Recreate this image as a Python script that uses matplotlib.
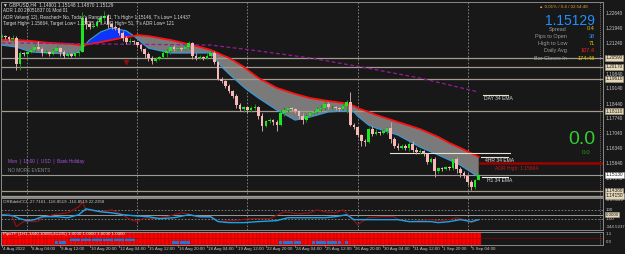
import matplotlib.pyplot as plt
import numpy as np

plt.rcParams['font.family'] = ['Liberation Sans', 'DejaVu Sans']

W, H = 625, 254
BG = '#181818'

# GBPUSD H4 bars, 4 Aug 20:00 .. 5 Sep 12:00 (price * 10000)
first_open = 12155
closes = [12160, 12158, 12148, 12150, 12030, 12080, 12075, 12085, 12095, 12110,
          12100, 12080, 12085, 12078, 12090, 12105, 12085, 12070, 12075, 12070,
          12080, 12088, 12245, 12215, 12205, 12210, 12225, 12245, 12255, 12215,
          12205, 12200, 12175, 12150, 12135, 12140, 12132, 12120, 12100, 12075,
          12060, 12045, 12055, 12065, 12080, 12090, 12110, 12100, 12105, 12100,
          12110, 12130, 12070, 12060, 12065, 12060, 12070, 12080, 12040, 11960,
          11950, 11930, 11905, 11880, 11840, 11820, 11828, 11815, 11825, 11830,
          11790, 11740, 11765, 11770, 11760, 11745, 11800, 11815, 11825, 11820,
          11812, 11790, 11770, 11790, 11800, 11808, 11820, 11825, 11845, 11830,
          11830, 11825, 11820, 11835, 11855, 11745, 11735, 11700, 11670, 11665,
          11725, 11705, 11715, 11710, 11718, 11730, 11680, 11650, 11640, 11648,
          11640, 11655, 11630, 11620, 11625, 11610, 11575, 11585, 11530, 11545,
          11540, 11548, 11545, 11585, 11540, 11520, 11510, 11480, 11455, 11490,
          11513]
highs = [12170, 12165, 12162, 12165, 12160, 12090, 12088, 12090, 12100, 12125,
         12140, 12110, 12095, 12090, 12100, 12120, 12110, 12095, 12085, 12080,
         12088, 12095, 12275, 12250, 12225, 12218, 12235, 12260, 12276, 12262,
         12220, 12212, 12205, 12185, 12160, 12150, 12145, 12135, 12125, 12105,
         12085, 12070, 12062, 12070, 12090, 12100, 12118, 12120, 12112, 12110,
         12125, 12140, 12135, 12080, 12072, 12070, 12080, 12090, 12092, 12045,
         11970, 11955, 11935, 11910, 11890, 11850, 11835, 11830, 11835, 11845,
         11835, 11800, 11770, 11778, 11775, 11770, 11815, 11830, 11830, 11830,
         11825, 11818, 11800, 11798, 11805, 11815, 11828, 11838, 11860, 11855,
         11838, 11835, 11830, 11845, 11862, 11900, 11755, 11735, 11705, 11680,
         11735, 11740, 11725, 11720, 11725, 11738, 11760, 11690, 11660, 11655,
         11655, 11665, 11670, 11645, 11632, 11630, 11615, 11595, 11595, 11552,
         11550, 11555, 11555, 11590, 11595, 11548, 11530, 11515, 11490, 11495,
         11515]
lows = [12150, 12148, 12140, 12135, 12005, 12005, 12068, 12070, 12080, 12085,
        12095, 12070, 12075, 12070, 12072, 12085, 12070, 12060, 12065, 12062,
        12065, 12070, 12085, 12195, 12195, 12200, 12205, 12220, 12235, 12200,
        12195, 12190, 12165, 12140, 12125, 12125, 12125, 12110, 12090, 12060,
        12045, 12030, 12040, 12048, 12060, 12065, 12075, 12090, 12095, 12092,
        12095, 12100, 12055, 12050, 12055, 12050, 12052, 12060, 12030, 11955,
        11940, 11920, 11895, 11870, 11825, 11810, 11805, 11800, 11805, 11815,
        11775, 11720, 11735, 11755, 11745, 11717, 11740, 11790, 11808, 11810,
        11800, 11775, 11750, 11760, 11785, 11795, 11800, 11812, 11815, 11820,
        11822, 11815, 11812, 11815, 11800, 11740, 11725, 11690, 11650, 11650,
        11660, 11695, 11700, 11700, 11702, 11705, 11660, 11640, 11630, 11635,
        11630, 11625, 11620, 11610, 11612, 11600, 11565, 11568, 11505, 11520,
        11530, 11535, 11535, 11538, 11520, 11505, 11500, 11465, 11444, 11445,
        11487]

# 34 EMA wave (high / low) and slow MA, read at selected bars
band_idx = [0, 4, 8, 13, 19, 21, 22, 24, 27, 30, 34, 36, 37, 40, 46, 53, 57, 60, 62,
            66, 67, 70, 75, 80, 84, 89, 93, 96, 97, 100, 102, 108, 114, 119, 122, 125, 130]
band_red = [1.2143, 1.2143, 1.2138, 1.2129, 1.2124, 1.2119, 1.2119, 1.2124, 1.2133, 1.2143,
            1.2157, 1.2161, 1.2166, 1.2161, 1.2143, 1.2115, 1.2096, 1.2073, 1.2059, 1.2017,
            1.2003, 1.1965, 1.1919, 1.1891, 1.1872, 1.1858, 1.1849, 1.1835, 1.1825, 1.1807,
            1.1793, 1.1760, 1.1727, 1.1690, 1.1662, 1.1639, 1.1597]
band_teal = [1.2119, 1.2110, 1.2087, 1.2082, 1.2077, 1.2087, 1.2105, 1.2143, 1.2180, 1.2199,
             1.2185, 1.2162, 1.2148, 1.2105, 1.2082, 1.2082, 1.2082, 1.2017, 1.1984, 1.1923,
             1.1909, 1.1872, 1.1816, 1.1769, 1.1783, 1.1807, 1.1811, 1.1807, 1.1788, 1.1746,
             1.1732, 1.1699, 1.1643, 1.1606, 1.1583, 1.1559, 1.1503]
slow_idx = [0, 57, 68, 84, 98, 114, 130]
slow_ma = [1.2129, 1.2119, 1.2096, 1.2059, 1.2017, 1.1965, 1.1900]

levels = [1.2059, 1.2017, 1.1961, 1.1811, 1.1438, 1.1415]
adr_high = 1.15664
ema_day = 1.1886
ema_h4 = [1.1615, 1.1597]
ema_h1 = 1.1503
signal_idx = [34]
signal_price = [1.2040]

price_ticks = [1.2264, 1.2194, 1.2124, 1.1984, 1.1914, 1.1844, 1.1774, 1.1704,
               1.1634, 1.1564, 1.1494]

# CCI panel
cci_fast_idx = [0, 3, 5, 7, 9, 11, 15, 18, 21, 23, 27, 30, 33, 36, 40, 43, 47, 51, 54, 57,
                59, 62, 66, 70, 75, 78, 84, 88, 91, 94, 96, 98, 103, 108, 111, 114, 117,
                119, 122, 125, 128, 130]
cci_fast = [0, -22, -89, -133, -111, -44, -44, -67, 0, 133, 67, 44, 0, -22, -44, -89, -67,
            0, -44, -44, -155, -178, -178, -155, -133, -67, -67, -67, -44, 0, -111, -111,
            -111, -111, -155, -155, -155, -178, -155, -111, -155, -111]
cci_slow_idx = [0, 2, 3, 4, 6, 10, 11, 14, 18, 21, 22, 23, 27, 30, 33, 35, 37, 39, 41, 45,
                49, 51, 53, 57, 59, 63, 68, 73, 77, 81, 84, 86, 88, 91, 93, 95, 97, 100,
                104, 107, 108, 111, 114, 117, 119, 122, 124, 126, 128, 130]
cci_slow = [0, 22, -67, -266, -155, -155, -67, 0, 44, 178, 289, 111, 67, 111, 0, -111, -155,
            -67, -89, -44, 44, 22, -44, -67, -155, -133, -89, -89, 67, 22, 44, 111, 67, 44,
            111, -44, -222, -67, -44, -44, -111, -155, -133, -111, -133, -111, -67, -111,
            -178, -111]
cci_top, cci_bottom = 378.0043, -344.5237

# bottom strip
blue_low_spans = [(15, 17), (47, 51), (76, 81), (85, 92), (94, 94)]
blue_high_spans = [(19, 36)]

week_starts = [7, 37, 67, 97, 127]
time_ticks = [0, 8, 16, 24, 32, 40, 48, 56, 64, 72, 80, 88, 96, 104, 112, 120, 128]
time_labels = ['4 Aug 2022', '8 Aug 04:00', '9 Aug 12:00', '10 Aug 20:00', '12 Aug 04:00',
               '15 Aug 12:00', '16 Aug 20:00', '18 Aug 04:00', '19 Aug 12:00',
               '22 Aug 20:00', '24 Aug 04:00', '25 Aug 12:00', '26 Aug 20:00',
               '30 Aug 04:00', '31 Aug 12:00', '1 Sep 20:00', '5 Sep 04:00']

c = np.array(closes) / 10000
h = np.array(highs) / 10000
l = np.array(lows) / 10000
o = np.concatenate([[first_open], closes[:-1]]) / 10000
idx = np.arange(len(c))

fig = plt.figure(figsize=(W / 100, H / 100), dpi=100, facecolor=BG)


def ftext(x, y, s, **kw):
    kw.setdefault('va', 'center')
    fig.text(x / W, 1 - y / H, s, **kw)


def panel(top, bottom):
    a = fig.add_axes([1 / W, 1 - bottom / H, 602 / W, (bottom - top) / H])
    a.set_facecolor(BG)
    a.set_xlim(-0.16, 163.87)
    a.set_xticks([])
    a.set_yticks([])
    for s in a.spines.values():
        s.set_color('#8a8a8a')
        s.set_linewidth(0.7)
    for w in week_starts:
        a.axvline(w, color='#8c8c8c', ls=(0, (2, 2)), lw=0.6, zorder=1)
    a.axvline(163.0, color='#8c8c8c', ls=(0, (1, 1.5)), lw=0.6, zorder=1)
    return a


# ---------------- main price panel ----------------
ax = panel(2, 197)
ax.set_ylim(1.1410, 1.2320)

bi = np.array(band_idx)
br = np.array(band_red)
bt = np.array(band_teal)
ax.fill_between(bi, br, bt, where=br >= bt, color='#7a7a7a', interpolate=True, lw=0, zorder=1.5)
ax.fill_between(bi, br, bt, where=bt > br, color='#0b34ff', interpolate=True, lw=0, zorder=1.5)
ax.plot(bi, bt, color='#3a9ad6', lw=0.9, zorder=2)
ax.plot(bi, br, color='#ff1010', lw=1.3, zorder=2)
ax.plot(slow_idx, slow_ma, color='#9a1a9a', lw=0.9, ls=(0, (3, 2)), zorder=2)

for lv in levels:
    ax.axhline(lv, color='#a49c8c', lw=0.9, zorder=1.8)
ax.axhline(c[-1], color='#9a9a9a', lw=0.8, zorder=1.8)

ax.plot([130.4, 164], [adr_high, adr_high], color='#a00000', lw=1.8, zorder=2)
ax.plot([131.2, 138], [ema_day, ema_day], color='#e8e0d0', lw=0.8, zorder=2)
ax.plot([105.8, 138.5], [ema_h4[0], ema_h4[0]], color='#e8e0d0', lw=0.8, zorder=2)
ax.plot([130.5, 138], [ema_h4[1], ema_h4[1]], color='#e8e0d0', lw=0.8, zorder=2)
ax.plot([130.9, 138], [ema_h1, ema_h1], color='#f0f0f0', lw=0.8, zorder=2)

up = c >= o
ax.vlines(idx[up], l[up], h[up], color='#0c9a0c', lw=0.7, zorder=3)
ax.vlines(idx[~up], l[~up], h[~up], color='#d0a0a0', lw=0.7, zorder=3)
body_lo = np.minimum(o, c)
body_h = np.maximum(np.abs(c - o), 0.0001)
ax.bar(idx[up], body_h[up], bottom=body_lo[up], width=0.72, color='#1ee61e', lw=0, zorder=4)
ax.bar(idx[~up], body_h[~up], bottom=body_lo[~up], width=0.72, color='#f6b8b8', lw=0, zorder=4)
ax.plot(signal_idx, signal_price, 'v', color='#8a1010', ms=3, zorder=4)

ytr = ax.get_yaxis_transform()
for p in price_ticks:
    ax.text(1.004, p, f'{p:.5f}', transform=ytr, ha='left', va='center',
            fontsize=3.4, color='#c8c8c8', clip_on=False)
for lv in levels:
    ax.text(1.004, lv, f'{lv:.5f}', transform=ytr, ha='left', va='center', fontsize=3.4,
            color='#202020', clip_on=False,
            bbox=dict(boxstyle='square,pad=0.15', fc='#e6d7b6', ec='#a49c8c', lw=0.4))
ax.text(1.004, c[-1], f'{c[-1]:.5f}', transform=ytr, ha='left', va='center', fontsize=3.4,
        color='#202020', clip_on=False,
        bbox=dict(boxstyle='square,pad=0.15', fc='#ffffff', ec='#a0a0a0', lw=0.4))

# info texts
tc = '#dcdcdc'
ftext(3, 5, '▼ GBPUSD,H4  1.14901 1.15148 1.14870 1.15129', fontsize=3.4, color=tc)
ftext(3, 11, 'ADR 1.00 28051837 01 Mod 01', fontsize=3.3, color=tc)
ftext(3, 17, "ADR Values( 12), Reached= No, Today's Range= 71, T's High= 1.15146, "
      "T's Low= 1.14437", fontsize=3.3, color=tc)
ftext(3, 23, "Target High= 1.15664, Target Low= 1.13795, T's ADR High= 51, "
      "T's ADR Low= 121", fontsize=3.3, color=tc)

ftext(588, 7, '▲ 0.01% / 0.4 / 02:54:48', fontsize=3.2, color='#e0a030', ha='right')
ftext(595, 21, '1.15129', fontsize=10, color='#1e90ff', ha='right')
rows = [('Spread', '0.4', '#e6c200'), ('Pips to Open', '38', '#1e90ff'),
        ('High to Low', '71', '#e6c200'), ('Daily Avg', '107.4', '#ff2020'),
        ('Bar Closes In', '174:48', '#e6c200')]
for k, (lab, val, col) in enumerate(rows):
    y = 29 + k * 7.3
    ftext(567, y, lab, fontsize=4, color='#9a9a9a', ha='right')
    ftext(595, y, val, fontsize=4, color=col, ha='right')

ftext(595, 140, '0.0', fontsize=14, color='#33cc33', ha='right')
ftext(586, 153, '0.0', fontsize=4.5, color='#22a022', ha='center')

ftext(484, 98.5, 'DAY 34 EMA', fontsize=3.6, color='#d8d8d8')
ftext(485, 160, '4HR 34 EMA', fontsize=3.6, color='#d8d8d8')
ftext(495, 168.5, 'ADR High: 1.15664', fontsize=3.6, color='#c01818')
ftext(487, 180, 'H1 34 EMA', fontsize=3.6, color='#d8d8d8')

ftext(8, 162, 'Mon  |  19:00  |  USD  |  Bank Holiday', fontsize=3.3, color='#a855d8')
ftext(8, 171, 'NO MORE EVENTS', fontsize=3.3, color='#8a8a8a')

# ---------------- CCI panel ----------------
ax2 = panel(198, 230)
ax2.set_ylim(cci_bottom, cci_top)
ax2.axhline(100, color='#8a8a8a', ls=(0, (2, 2)), lw=0.6)
ax2.axhline(-100, color='#8a8a8a', ls=(0, (2, 2)), lw=0.6)
ax2.axhline(0, color='#9a9a9a', lw=0.7)
ax2.plot(cci_slow_idx, cci_slow, color='#9a1010', lw=0.8)
ax2.plot(cci_fast_idx, cci_fast, color='#1aa3e8', lw=1.0)
ytr2 = ax2.get_yaxis_transform()
for v, s in [(cci_top - 40, f'{cci_top:.4f}'), (100, '100'), (-100, '-100'),
             (cci_bottom + 60, f'{cci_bottom:.4f}')]:
    ax2.text(1.004, v, s, transform=ytr2, ha='left', va='center', fontsize=3.2,
             color='#c8c8c8', clip_on=False)
ax2.text(1.004, 0, '0.0000', transform=ytr2, ha='left', va='center', fontsize=3.2,
         color='#202020', clip_on=False,
         bbox=dict(boxstyle='square,pad=0.15', fc='#e6d7b6', ec='#a49c8c', lw=0.4))
ftext(3, 202, 'ORBdebCCI -27.7161 -116.8519 -116.8519 22.2358', fontsize=3.2, color='#c8c8c8')

# ---------------- bottom strip ----------------
ax3 = panel(231.5, 245)
ax3.set_ylim(0, 1)
ax3.bar(idx, np.ones(len(idx)), width=1.0, color='#ff0000', edgecolor='#9a0000', lw=0.3)
ax3.axhline(0.5, color='#9a0000', lw=0.4)
for a0, a1 in blue_low_spans:
    ax3.bar(np.arange(a0, a1 + 1), 0.22, bottom=0.07, width=0.9, color='#1e78d8', lw=0)
for a0, a1 in blue_high_spans:
    ax3.bar(np.arange(a0, a1 + 1), 0.22, bottom=0.29, width=0.9, color='#1e78d8', lw=0)
ytr3 = ax3.get_yaxis_transform()
ax3.text(1.004, 0.8, '1.1', transform=ytr3, ha='left', va='center', fontsize=3.2,
         color='#c8c8c8', clip_on=False)
ax3.text(1.004, 0.2, '0.0', transform=ytr3, ha='left', va='center', fontsize=3.2,
         color='#c8c8c8', clip_on=False)
ftext(3, 234.5, 'PipsTF (1H1,1440,10080,41205) 1.0000 1.0000 1.0000 1.0000',
      fontsize=3.2, color='#f0f0f0')

xtr = ax3.get_xaxis_transform()
for t, s in zip(time_ticks, time_labels):
    ax3.plot([t, t], [-0.18, 0], transform=xtr, color='#9a9a9a', lw=0.5, clip_on=False)
    ax3.text(t + 0.3, -0.3, s, transform=xtr, ha='left', va='center', fontsize=3.2,
             color='#c8c8c8', clip_on=False)

fig.savefig('out.png', dpi=100, facecolor=BG)
